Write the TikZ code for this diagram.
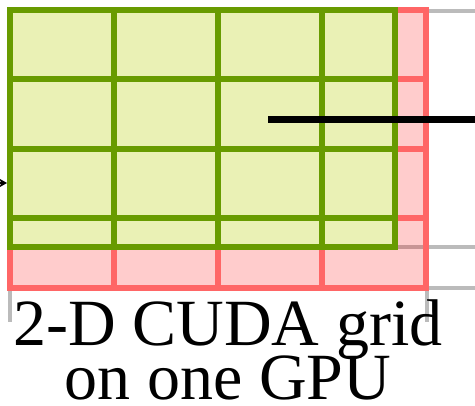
\documentclass[tikz,border=0pt]{standalone}
\usepackage{fontspec}
\setmainfont{Liberation Serif}
\usetikzlibrary{arrows.meta}
\definecolor{tilefill}{RGB}{234,241,181}
\definecolor{tileline}{RGB}{104,155,0}
\definecolor{blkline}{RGB}{255,102,102}
\definecolor{edgegray}{RGB}{187,187,187}
\newcommand\capfont{\fontsize{66}{54}\selectfont\lineskiplimit -60pt\relax}

\begin{document}
\begin{tikzpicture}[
  x=1pt,y=-1pt,
  edge/.style={draw=edgegray,line width=3.5pt},
  blk/.style={draw=blkline,line width=6pt},
  tile/.style={draw=tileline,line width=6pt},
  ptr/.style={draw=black,line width=6.5pt},
  ar/.style={-{Stealth[length=8pt,width=9pt]},line width=2pt},
  caption/.style={align=center,inner sep=0pt,anchor=base,font=\capfont}
]
\clip (0,0) rectangle (475,406);

% edges of the box behind
\draw[edge] (426,11) -- (480,11);
\draw[edge] (383,247) -- (480,247);
\draw[edge] (426,288) -- (480,288);
\draw[edge] (10,288) -- (10,322);
\draw[edge] (427,288) -- (427,322);

% thread blocks of the whole grid
\fill[red,fill opacity=0.2] (10,10) rectangle (426,288);
\draw[blk] (114,10) -- (114,288);
\draw[blk] (218,10) -- (218,288);
\draw[blk] (322,10) -- (322,288);
\draw[blk] (10,79.5) -- (426,79.5);
\draw[blk] (10,149) -- (426,149);
\draw[blk] (10,218.5) -- (426,218.5);
\draw[blk] (10,10) rectangle (426,288);

% part of the grid that holds data
\fill[tilefill] (10,10) rectangle (395,247);
\draw[tile] (114,10) -- (114,247);
\draw[tile] (218,10) -- (218,247);
\draw[tile] (322,10) -- (322,247);
\draw[tile] (10,79.5) -- (395,79.5);
\draw[tile] (10,149) -- (395,149);
\draw[tile] (10,218.5) -- (395,218.5);
\draw[tile] (10,10) rectangle (395,247);

\coordinate (feed) at (-30,183);
\coordinate (gin) at (7,183);
\coordinate (ptrin) at (268,119.5);
\coordinate (ptrout) at (480,119.5);
\draw[ar] (feed) -- (gin);
\draw[ptr] (ptrin) -- (ptrout);

\node[caption] (cap) at (228,400) {2-D CUDA grid\\on one GPU};
\end{tikzpicture}
\end{document}
